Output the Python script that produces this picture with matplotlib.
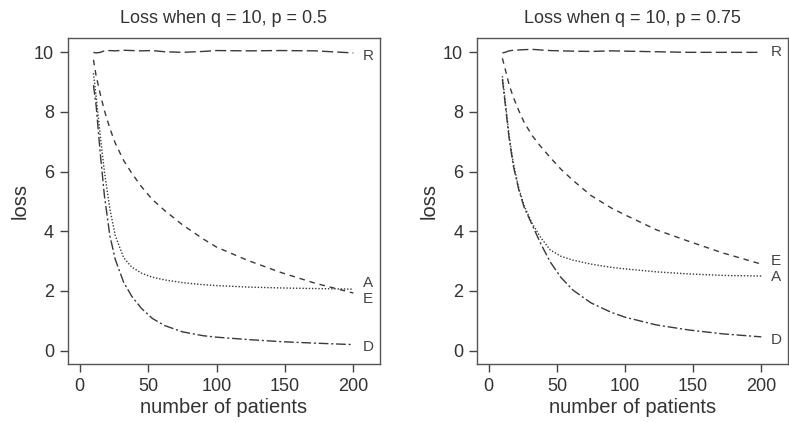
import matplotlib.pyplot as plt

plt.rcParams['font.family'] = ['Liberation Sans', 'DejaVu Sans']

# number of patients (shared x grid)
n_patients = [10, 12, 15, 18, 22, 26, 32, 38, 45, 53, 62, 75, 90, 100, 123, 147, 172, 200]

# q = 10, p = 0.5
r_05 = [10.0, 9.98, 10.0, 10.05, 10.06, 10.05, 10.07, 10.06, 10.05, 10.06, 10.02, 10.0,
        10.03, 10.06, 10.05, 10.06, 10.05, 9.98]
e_05 = [9.75, 9.2, 8.6, 8.05, 7.45, 6.95, 6.38, 5.95, 5.5, 5.07, 4.7, 4.22,
        3.75, 3.47, 3.02, 2.62, 2.26, 1.93]
a_05 = [9.3, 8.5, 7.2, 6.0, 4.75, 3.85, 3.12, 2.8, 2.6, 2.46, 2.37, 2.28,
        2.21, 2.18, 2.13, 2.1, 2.08, 2.06]
d_05 = [8.9, 8.2, 6.6, 5.2, 3.85, 3.05, 2.3, 1.82, 1.42, 1.08, 0.84, 0.63,
        0.5, 0.45, 0.37, 0.3, 0.25, 0.2]

# q = 10, p = 0.75
r_075 = [9.98, 10.0, 10.05, 10.07, 10.08, 10.09, 10.1, 10.08, 10.06, 10.05, 10.04, 10.03,
         10.05, 10.04, 10.02, 10.0, 10.0, 10.0]
e_075 = [9.8, 9.45, 8.9, 8.5, 8.05, 7.65, 7.2, 6.85, 6.48, 6.08, 5.7, 5.2,
         4.78, 4.55, 4.05, 3.66, 3.27, 2.9]
a_075 = [9.2, 8.4, 7.2, 6.3, 5.45, 4.85, 4.25, 3.8, 3.38, 3.16, 3.03, 2.9,
         2.79, 2.74, 2.64, 2.57, 2.52, 2.5]
d_075 = [9.1, 8.3, 7.1, 6.2, 5.4, 4.8, 4.2, 3.6, 2.98, 2.45, 2.02, 1.6,
         1.28, 1.12, 0.86, 0.69, 0.56, 0.46]

names = ['R', 'E', 'A', 'D']
dash_styles = {'R': (0, (8, 3)), 'E': (0, (4, 3.5)), 'A': (0, (1, 1.3)), 'D': (0, (7, 2, 1.5, 2))}

panels = [
    ('Loss when q = 10, p = 0.5', [r_05, e_05, a_05, d_05],
     {'R': -0.1, 'E': -0.2, 'A': 0.2, 'D': -0.07}),
    ('Loss when q = 10, p = 0.75', [r_075, e_075, a_075, d_075],
     {'R': 0.0, 'E': 0.09, 'A': -0.02, 'D': -0.1}),
]

fig = plt.figure(figsize=(7.89, 4.22), dpi=100)
axes = [fig.add_axes([0.0862, 0.1374, 0.3954, 0.7725]),
        fig.add_axes([0.6046, 0.1374, 0.3940, 0.7725])]

ink = '#333333'
for ax, (title, series, label_off) in zip(axes, panels):
    for name, vals in zip(names, series):
        ax.plot(n_patients, vals, color='#3a3a3a', lw=1.0, linestyle=dash_styles[name])
        ax.text(n_patients[-1] + 7, vals[-1] + label_off[name], name,
                fontsize=11, color='#444444', ha='left', va='center')
    ax.set_xlim(-8.6, 219.5)
    ax.set_ylim(-0.45, 10.48)
    ax.set_xticks([0, 50, 100, 150, 200])
    ax.set_yticks([0, 2, 4, 6, 8, 10])
    ax.tick_params(direction='out', length=6, width=1, color='#444444',
                   labelsize=13, labelcolor=ink, pad=4)
    for sp in ax.spines.values():
        sp.set_color('#555555')
        sp.set_linewidth(1.0)
    ax.set_title(title, fontsize=13, color=ink, pad=11)
    ax.set_xlabel('number of patients', fontsize=14.5, color=ink, labelpad=2)
    ax.set_ylabel('loss', fontsize=14.5, color=ink, labelpad=3)

fig.savefig('out.png', dpi=100)
